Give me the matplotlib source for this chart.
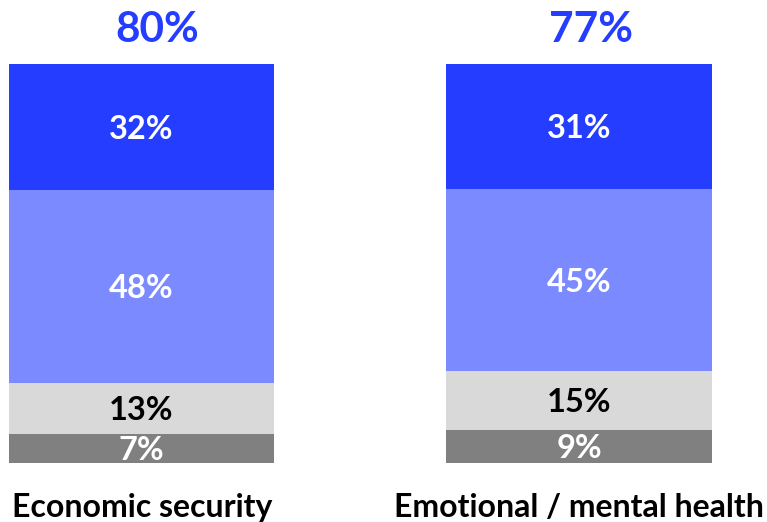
import matplotlib.pyplot as plt
import numpy as np

plt.rcParams['font.family'] = ['Lato', 'DejaVu Sans']

categories = ['Economic security', 'Emotional / mental health']
totals = ['80%', '77%']
# stacked from bottom to top; heights, labels as printed
segment_values = [
    [7.3, 12.8, 48.4, 31.6],
    [8.3, 14.8, 45.6, 31.3],
]
segment_labels = [
    ['7%', '13%', '48%', '32%'],
    ['9%', '15%', '45%', '31%'],
]
segment_colors = ['#808080', '#d9d9d9', '#7b8bff', '#253dff']
label_colors = ['white', 'black', 'white', 'white']

W, H = 767, 522
fig = plt.figure(figsize=(W / 100, H / 100), dpi=100)
ax = fig.add_axes([9 / W, 1 - 463 / H, 702.6 / W, 399 / H])

x = np.arange(len(categories))
width = 0.606
for i in range(len(categories)):
    bottom = 0
    for j, v in enumerate(segment_values[i]):
        ax.bar(x[i], v, width, bottom=bottom, color=segment_colors[j], linewidth=0)
        ax.text(x[i], bottom + v / 2, segment_labels[i][j], ha='center',
                va='center_baseline', color=label_colors[j], fontsize=23.5,
                fontweight='bold')
        bottom += v

ax.set_xlim(-width / 2, 1 + width / 2)
ax.set_ylim(0, 100)
ax.axis('off')

# totals above the bars (slightly right of bar centre, as in the source)
total_x = [157, 591]
for t, tx in zip(totals, total_x):
    fig.text(tx / W, 1 - 27 / H, t, ha='center', va='center_baseline',
             color='#253dff', fontsize=30.5, fontweight='bold')

cat_x = [142, 579]
for c, cx in zip(categories, cat_x):
    fig.text(cx / W, 1 - 505 / H, c, ha='center', va='center_baseline',
             color='black', fontsize=23, fontweight='bold')

fig.savefig('out.png', dpi=100)
